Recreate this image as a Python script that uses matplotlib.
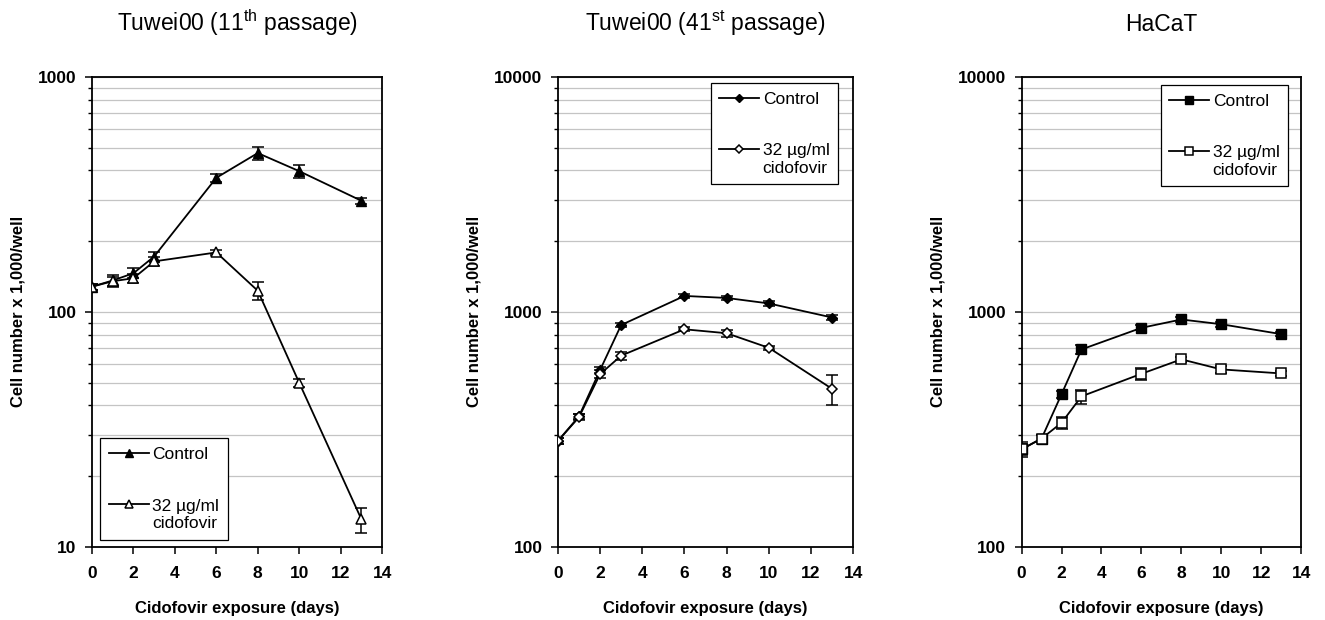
import matplotlib
matplotlib.use("Agg")
import matplotlib.pyplot as plt
import matplotlib.ticker as mticker
from matplotlib.legend_handler import HandlerLine2D
from matplotlib.lines import Line2D
import numpy as np

plt.rcParams["font.family"] = ["Liberation Sans", "DejaVu Sans"]
plt.rcParams["mathtext.default"] = "regular"

days = [0, 1, 2, 3, 6, 8, 10, 13]

# Tuwei00, 11th passage
p11_control = [128, 136, 146, 172, 372, 474, 397, 297]
p11_control_err = [4, 8, 7, 8, 15, 30, 25, 8]
p11_cido = [128, 135, 139, 164, 179, 123, 49.9, 13.1]
p11_cido_err = [4, 6, 6, 7, 5, 11, 2, 1.6]

# Tuwei00, 41st passage
p41_control = [282, 359, 565, 879, 1169, 1146, 1086, 946]
p41_control_err = [8, 10, 15, 20, 25, 25, 25, 20]
p41_cido = [282, 356, 543, 651, 843, 811, 703, 470]
p41_cido_err = [8, 10, 20, 25, 15, 28, 15, 70]

# HaCaT
hacat_control = [260, 289, 446, 692, 855, 928, 886, 804]
hacat_control_err = [15, 10, 15, 30, 20, 20, 20, 15]
hacat_cido = [260, 289, 337, 437, 545, 628, 569, 547]
hacat_cido_err = [20, 10, 20, 30, 30, 15, 20, 12]

titles = [
    "Tuwei00 (11$^{th}$ passage)",
    "Tuwei00 (41$^{st}$ passage)",
    "HaCaT",
]
control_label = "Control"
cido_label = "32 µg/ml\ncidofovir"


class RaisedHandler(HandlerLine2D):
    """Line handle lifted to sit next to the first line of a two-line label."""

    def __init__(self, lift=0.0, **kw):
        super().__init__(**kw)
        self.lift = lift

    def create_artists(self, legend, orig_handle, xdescent, ydescent,
                       width, height, fontsize, trans):
        return super().create_artists(legend, orig_handle, xdescent,
                                      ydescent - 2 * self.lift * fontsize,
                                      width, height, fontsize, trans)


panels = [
    dict(ctrl=p11_control, ctrl_err=p11_control_err, cido=p11_cido, cido_err=p11_cido_err,
         marker="^", ms=7.5, ylim=(10, 1000), rect=[0.0694, 0.118, 0.219, 0.758],
         legend_loc="lower left", legend_anchor=(0.028, 0.015)),
    dict(ctrl=p41_control, ctrl_err=p41_control_err, cido=p41_cido, cido_err=p41_cido_err,
         marker="D", ms=5.5, ylim=(100, 10000), rect=[0.421, 0.118, 0.223, 0.758],
         legend_loc="upper right", legend_anchor=(0.949, 0.987)),
    dict(ctrl=hacat_control, ctrl_err=hacat_control_err, cido=hacat_cido, cido_err=hacat_cido_err,
         marker="s", ms=7, ylim=(100, 10000), rect=[0.771, 0.118, 0.211, 0.758],
         legend_loc="upper right", legend_anchor=(0.954, 0.983)),
]

fig = plt.figure(figsize=(13.25, 6.2), dpi=100)

for title, p in zip(titles, panels):
    ax = fig.add_axes(p["rect"])
    ms = p["ms"]

    ax.errorbar(days, p["ctrl"], yerr=p["ctrl_err"], color="black", lw=1.3,
                marker=p["marker"], ms=ms, mfc="black", mec="black",
                capsize=4, elinewidth=1.1, capthick=1.1, zorder=3)
    ax.errorbar(days, p["cido"], yerr=p["cido_err"], color="black", lw=1.3,
                marker=p["marker"], ms=ms, mfc="white", mec="black", mew=1.1,
                capsize=4, elinewidth=1.1, capthick=1.1, zorder=3)

    ax.set_yscale("log")
    ax.set_ylim(*p["ylim"])
    ax.set_xlim(0, 14)
    ax.set_xticks(range(0, 15, 2))
    ax.yaxis.set_major_formatter(mticker.FormatStrFormatter("%d"))
    ax.yaxis.set_minor_locator(mticker.LogLocator(base=10, subs=np.arange(2, 10)))
    ax.yaxis.set_minor_formatter(mticker.NullFormatter())

    ax.grid(True, which="both", axis="y", color="#c4c4c4", lw=0.9)
    ax.set_axisbelow(True)

    for s in ax.spines.values():
        s.set_linewidth(1.3)
    ax.tick_params(axis="both", which="major", labelsize=12.5, width=1.1, length=5, pad=6)
    ax.tick_params(axis="x", which="major", pad=9)
    ax.tick_params(axis="y", which="minor", width=1.0, length=3)
    for lbl in ax.get_xticklabels() + ax.get_yticklabels():
        lbl.set_fontweight("bold")

    ax.set_title(title, fontsize=16.5, pad=33)
    ax.set_xlabel("Cidofovir exposure (days)", fontsize=12, fontweight="bold", labelpad=14)
    ax.set_ylabel("Cell number x 1,000/well", fontsize=12, fontweight="bold", labelpad=9)

    # legend entries show only line + marker (no error bar glyphs)
    h_ctrl = Line2D([], [], color="black", lw=1.3, marker=p["marker"], ms=ms * 0.8,
                    mfc="black", mec="black")
    h_cido = Line2D([], [], color="black", lw=1.3, marker=p["marker"], ms=ms * 0.8,
                    mfc="white", mec="black", mew=1.1)
    leg = ax.legend([h_ctrl, h_cido], [control_label, cido_label],
                    loc=p["legend_loc"], bbox_to_anchor=p["legend_anchor"],
                    borderaxespad=0, fontsize=12.5, frameon=True, fancybox=False,
                    framealpha=1, edgecolor="black", labelspacing=2.1,
                    handlelength=2.3, handletextpad=0.2, borderpad=0.5,
                    handler_map={h_cido: RaisedHandler(lift=0.6)})
    leg.get_frame().set_linewidth(0.9)

fig.savefig("out.png", dpi=100, facecolor="white")
